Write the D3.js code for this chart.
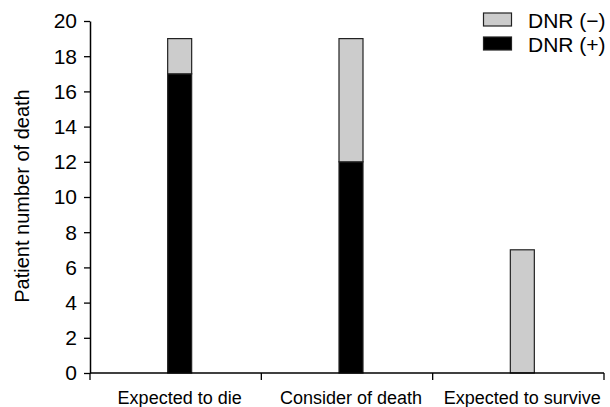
<!DOCTYPE html>
<html><head><meta charset="utf-8">
<script src="https://cdn.jsdelivr.net/npm/d3@7"></script>
<style>body{margin:0;background:#fff}svg{display:block}text{font-family:"Liberation Sans",Arial,sans-serif;fill:#000}</style>
</head><body><svg width="610" height="407"></svg>
<script>
const categories = ["Expected to die", "Consider of death", "Expected to survive"];
const dnrPlus = [17, 12, 0];
const dnrMinus = [2, 7, 7];
const seriesNames = ["DNR (\u2212)", "DNR (+)"];
const yTicks = [0,2,4,6,8,10,12,14,16,18,20];

const svg = d3.select("svg");
const x = d3.scaleBand().domain(categories).range([90, 604]).paddingInner(0).paddingOuter(0);
const y = d3.scaleLinear().domain([0, 20]).range([373, 21]);
const barW = 24, off = 4;

const data = categories.map((c, i) => ({c, plus: dnrPlus[i], minus: dnrMinus[i]}));
const stack = d3.stack().keys(["plus", "minus"])(data);
const colors = {plus: "#000", minus: "#cccccc"};

stack.forEach(layer => {
  svg.append("g").selectAll("rect").data(layer.filter(d => d[1] > d[0])).join("rect")
    .attr("x", d => x(d.data.c) + x.bandwidth()/2 + off - barW/2)
    .attr("width", barW)
    .attr("y", d => y(d[1]))
    .attr("height", d => y(d[0]) - y(d[1]))
    .attr("fill", colors[layer.key])
    .attr("stroke", "#222").attr("stroke-width", 1.2);
});

// Y axis
const yAx = svg.append("g").attr("transform", "translate(90,0)")
  .call(d3.axisLeft(y).tickValues(yTicks).tickSize(6).tickPadding(7).tickSizeOuter(0));
yAx.select(".domain").attr("stroke", "#000").attr("stroke-width", 1.5);
yAx.selectAll(".tick line").attr("stroke", "#000").attr("stroke-width", 1.3);
yAx.attr("font-size", 21).attr("font-family", "Liberation Sans, Arial, sans-serif");
yAx.selectAll("text").attr("font-size", 21).attr("dy", "0.33em");

// X axis
const xAx = svg.append("g").attr("transform", "translate(0,373)");
xAx.append("line").attr("x1", 90).attr("x2", 604).attr("stroke", "#000").attr("stroke-width", 1.5);
const bounds = [...categories.map(c => x(c)), x(categories[categories.length-1]) + x.bandwidth()];
xAx.selectAll("line.t").data(bounds).join("line").attr("class", "t")
  .attr("x1", d => d).attr("x2", d => d).attr("y1", 0).attr("y2", 7)
  .attr("stroke", "#000").attr("stroke-width", 1.3);
xAx.selectAll("text").data(categories).join("text")
  .attr("x", d => x(d) + x.bandwidth()/2 + off).attr("y", 31)
  .attr("text-anchor", "middle").attr("font-size", 18).text(d => d);

// Y label
svg.append("text").attr("transform", "translate(29,196) rotate(-90)")
  .attr("text-anchor", "middle").attr("font-size", 20).text("Patient number of death");

// Legend
const leg = svg.append("g");
const legItems = [{name: seriesNames[0], color: colors.minus}, {name: seriesNames[1], color: colors.plus}];
legItems.forEach((it, i) => {
  leg.append("rect").attr("x", 483.5).attr("y", 13 + i*24).attr("width", 28).attr("height", 13)
    .attr("fill", it.color).attr("stroke", "#222").attr("stroke-width", 1.2);
  leg.append("text").attr("x", 528).attr("y", 28 + i*24).attr("font-size", 21).text(it.name);
});
</script></body></html>
